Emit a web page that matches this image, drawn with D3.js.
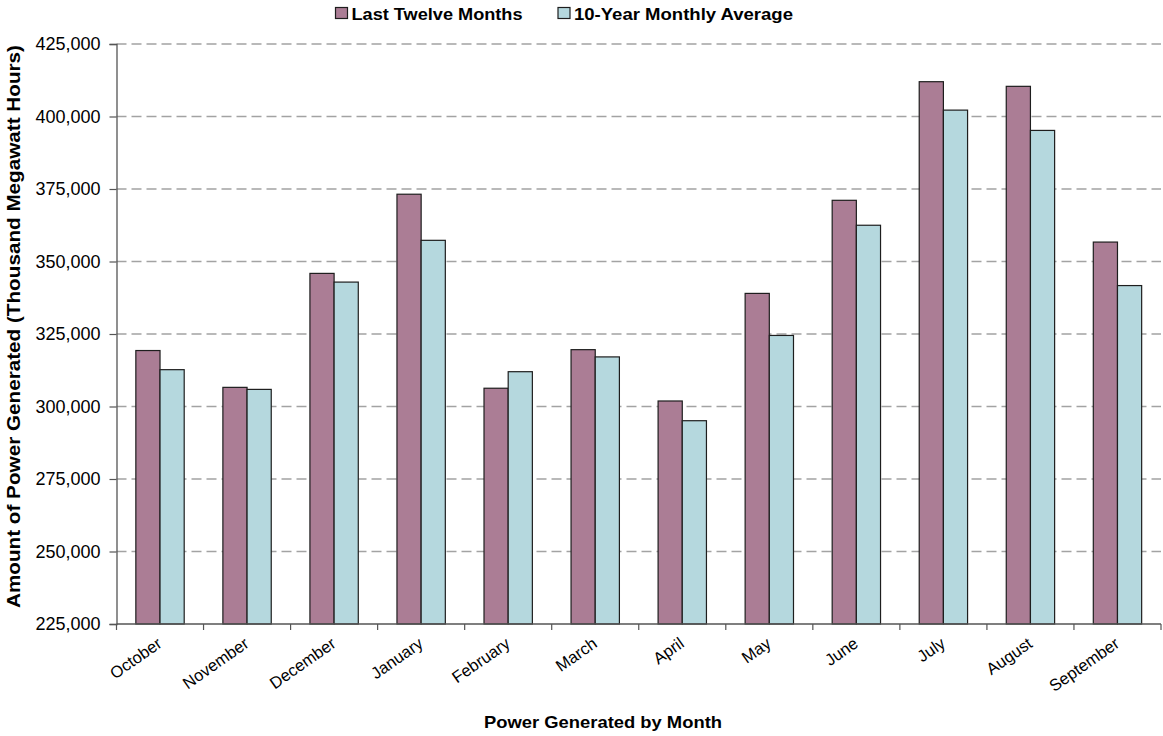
<!DOCTYPE html>
<html>
<head>
<meta charset="utf-8">
<script src="https://cdn.jsdelivr.net/npm/d3@7"></script>
<style>
  html, body { margin: 0; padding: 0; background: #fff; }
  svg { display: block; font-family: "Liberation Sans", Arial, sans-serif; }
</style>
</head>
<body>
<svg id="chart" width="1163" height="736"></svg>
<script>
// Monthly power generation, in thousand megawatt hours
const months = ["October", "November", "December", "January", "February", "March",
                "April", "May", "June", "July", "August", "September"];
const seriesNames = ["Last Twelve Months", "10-Year Monthly Average"];
const lastTwelve = [319300, 306600, 345900, 373200, 306300, 319600,
                    301900, 339000, 371100, 412000, 410400, 356700];
const tenYearAvg = [312700, 305900, 342900, 357300, 312000, 317100,
                    295100, 324500, 362500, 402200, 395200, 341700];
const yTicks = [225000, 250000, 275000, 300000, 325000, 350000, 375000, 400000, 425000];
const seriesColors = ["#ab7d95", "#b5d8de"];

const svg = d3.select("#chart");
const margin = { left: 116.5, right: 1161, top: 44, bottom: 624 };

const x = d3.scaleBand().domain(months).range([margin.left, margin.right]).padding(0);
const xSub = d3.scaleBand().domain(seriesNames).range([0, x.bandwidth()])
  .paddingInner(0).paddingOuter(0.8);
const y = d3.scaleLinear().domain([225000, 425000]).range([margin.bottom, margin.top]);

const fmt = d3.format(",");

// Dashed horizontal gridlines
svg.append("g")
  .selectAll("line")
  .data(yTicks.filter(t => t > 225000))
  .join("line")
  .attr("x1", margin.left).attr("x2", margin.right)
  .attr("y1", d => y(d)).attr("y2", d => y(d))
  .attr("stroke", "#a3a3a3")
  .attr("stroke-width", 1.4)
  .attr("stroke-dasharray", "10,5");

// Bars
const rows = months.map((m, i) => ({ month: m, values: [lastTwelve[i], tenYearAvg[i]] }));
const groups = svg.append("g").selectAll("g")
  .data(rows)
  .join("g")
  .attr("transform", d => `translate(${x(d.month)},0)`);

groups.selectAll("rect")
  .data(d => d.values.map((v, k) => ({ key: seriesNames[k], value: v, k })))
  .join("rect")
  .attr("x", d => xSub(d.key))
  .attr("width", xSub.bandwidth())
  .attr("y", d => y(d.value))
  .attr("height", d => y(225000) - y(d.value))
  .attr("fill", d => seriesColors[d.k])
  .attr("stroke", "#1e1e1e")
  .attr("stroke-width", 1.2);

// Y axis
const yAxis = svg.append("g")
  .attr("transform", `translate(${margin.left},0)`)
  .call(d3.axisLeft(y).tickValues(yTicks).tickFormat(fmt).tickSize(7).tickPadding(9));
yAxis.select(".domain").attr("stroke", "#555").attr("stroke-width", 1.3);
yAxis.selectAll(".tick line").attr("stroke", "#555").attr("stroke-width", 1.2);
yAxis.selectAll(".tick text")
  .attr("font-size", 18).attr("fill", "#000")
  .attr("font-family", "Liberation Sans, Arial, sans-serif");

// X axis: ticks at category boundaries
const xAxisG = svg.append("g").attr("transform", `translate(0,${margin.bottom})`);
xAxisG.append("line")
  .attr("x1", margin.left).attr("x2", margin.right)
  .attr("stroke", "#555").attr("stroke-width", 1.3);
const boundaries = months.map(m => x(m)).concat([margin.right]);
xAxisG.selectAll("line.tk")
  .data(boundaries)
  .join("line").attr("class", "tk")
  .attr("x1", d => d).attr("x2", d => d)
  .attr("y1", 0).attr("y2", 6)
  .attr("stroke", "#555").attr("stroke-width", 1.2);
xAxisG.selectAll("text")
  .data(months)
  .join("text")
  .attr("transform", d => `translate(${x(d) + x.bandwidth() / 2 + 3},${22}) rotate(-35)`)
  .attr("text-anchor", "end")
  .attr("font-size", 16.5)
  .attr("fill", "#000")
  .text(d => d);

// Axis titles
svg.append("text")
  .attr("x", 484).attr("y", 728)
  .attr("font-size", 17).attr("font-weight", "bold")
  .attr("textLength", 238).attr("lengthAdjust", "spacingAndGlyphs")
  .text("Power Generated by Month");

svg.append("text")
  .attr("transform", "translate(19.5,608) rotate(-90)")
  .attr("font-size", 18.5).attr("font-weight", "bold")
  .attr("textLength", 563).attr("lengthAdjust", "spacingAndGlyphs")
  .text("Amount of Power Generated (Thousand Megawatt Hours)");

// Legend
const legend = svg.append("g");
const legendItems = [
  { name: seriesNames[0], color: seriesColors[0], x: 335.5, len: 171 },
  { name: seriesNames[1], color: seriesColors[1], x: 558, len: 219 }
];
const li = legend.selectAll("g").data(legendItems).join("g")
  .attr("transform", d => `translate(${d.x},0)`);
li.append("rect")
  .attr("x", 0).attr("y", 7.5).attr("width", 12).attr("height", 11)
  .attr("fill", d => d.color).attr("stroke", "#1e1e1e").attr("stroke-width", 1.2);
li.append("text")
  .attr("x", 16).attr("y", 19.5)
  .attr("font-size", 17).attr("font-weight", "bold")
  .attr("textLength", d => d.len).attr("lengthAdjust", "spacingAndGlyphs")
  .text(d => d.name);
</script>
</body>
</html>
